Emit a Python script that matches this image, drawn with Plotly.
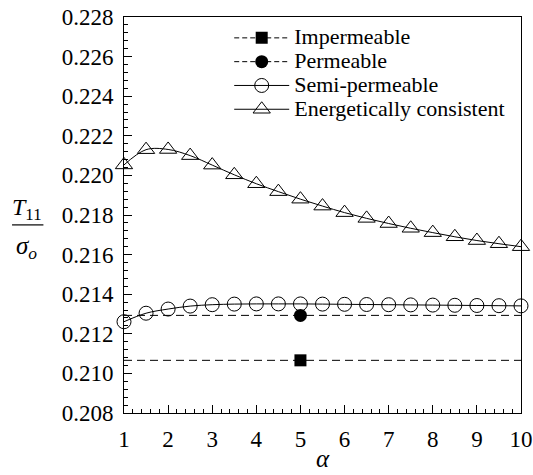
import plotly.graph_objects as go

alpha = [1, 1.5, 2, 2.5, 3, 3.5, 4, 4.5, 5, 5.5, 6, 6.5, 7, 7.5, 8, 8.5, 9, 9.5, 10]
semi_permeable = [0.21261, 0.21304, 0.21325, 0.21340, 0.21347, 0.21350, 0.21351, 0.21351, 0.21351,
                  0.21350, 0.21349, 0.21348, 0.21347, 0.21346, 0.21345, 0.21344, 0.21343, 0.21342, 0.21341]
energetic = [0.22053, 0.22130, 0.22131, 0.22100, 0.22052, 0.22003, 0.21958, 0.21918, 0.21880, 0.21845,
             0.21812, 0.21783, 0.21757, 0.21733, 0.21711, 0.21690, 0.21671, 0.21655, 0.21640]
impermeable_value = 0.21066
permeable_value = 0.21293
marker_alpha = 5

FONT = "Liberation Serif"
LEG = '<span style="font-size:22px">%s</span>'

fig = go.Figure()

# horizontal dashed reference lines (no legend)
for v in [impermeable_value, permeable_value]:
    fig.add_trace(go.Scatter(x=[alpha[0], alpha[-1]], y=[v, v], mode="lines",
                             line=dict(color="black", width=1, dash="8px,5px"),
                             showlegend=False, hoverinfo="skip"))

fig.add_trace(go.Scatter(x=[marker_alpha], y=[impermeable_value], mode="lines+markers",
                         name=LEG % "Impermeable",
                         line=dict(color="black", width=1, dash="5px,3px"),
                         marker=dict(symbol="square", size=12, color="black"),
                         cliponaxis=False))
fig.add_trace(go.Scatter(x=[marker_alpha], y=[permeable_value], mode="lines+markers",
                         name=LEG % "Permeable",
                         line=dict(color="black", width=1, dash="5px,3px"),
                         marker=dict(symbol="circle", size=13, color="black"),
                         cliponaxis=False))
fig.add_trace(go.Scatter(x=alpha, y=semi_permeable, mode="lines+markers",
                         name=LEG % "Semi-permeable",
                         line=dict(color="black", width=1, shape="spline"),
                         marker=dict(symbol="circle-open", size=14, color="black", line=dict(width=1)),
                         cliponaxis=False))
fig.add_trace(go.Scatter(x=alpha, y=energetic, mode="lines+markers",
                         name=LEG % "Energetically consistent",
                         line=dict(color="black", width=1, shape="spline"),
                         marker=dict(symbol="triangle-up-open", size=15, color="black", line=dict(width=1)),
                         cliponaxis=False))

axis_common = dict(showline=True, linecolor="black", linewidth=1, mirror=True,
                   ticks="inside", ticklen=8, tickwidth=1, tickcolor="black",
                   showgrid=False, zeroline=False, automargin=False,
                   ticklabelstandoff=5,
                   tickfont=dict(family=FONT, size=23, color="black"))

fig.update_xaxes(range=[1, 10], dtick=1, tick0=1,
                 minor=dict(dtick=0.2, ticks="inside", ticklen=4, tickcolor="black"),
                 **axis_common)
fig.update_yaxes(range=[0.208, 0.228], dtick=0.002, tick0=0.208, tickformat=".3f",
                 minor=dict(dtick=0.0004, ticks="inside", ticklen=4, tickcolor="black"),
                 **axis_common)

# x-axis title
fig.add_annotation(text="<i>α</i>", xref="paper", yref="paper",
                   x=0.5, y=-0.116, xanchor="center", yanchor="middle", showarrow=False,
                   font=dict(family=FONT, size=25, color="black"))

# y-axis title as a fraction
fig.add_annotation(text="<i>T</i><sub>11</sub>", xref="paper", yref="paper",
                   x=-0.245, y=0.472, xanchor="center", yanchor="bottom", showarrow=False,
                   font=dict(family=FONT, size=24, color="black"))
fig.add_shape(type="line", xref="paper", yref="paper", x0=-0.282, x1=-0.203, y0=0.475, y1=0.475,
              line=dict(color="black", width=1.2))
fig.add_annotation(text="<i>σ<sub>o</sub></i>", xref="paper", yref="paper",
                   x=-0.245, y=0.462, xanchor="center", yanchor="top", showarrow=False,
                   font=dict(family=FONT, size=25, color="black"))

fig.update_layout(
    template="none",
    width=533, height=475,
    margin=dict(l=124, r=12, t=17, b=62),
    plot_bgcolor="white", paper_bgcolor="white",
    font=dict(family=FONT, color="black"),
    legend=dict(x=0.265, y=0.99, xanchor="left", yanchor="top",
                font=dict(family=FONT, size=16, color="black"),
                bgcolor="rgba(0,0,0,0)", borderwidth=0, itemwidth=55,
                tracegroupgap=0),
)

fig.write_html("out.html", config={"displayModeBar": False},
               post_script="document.body.style.margin='0px';")
